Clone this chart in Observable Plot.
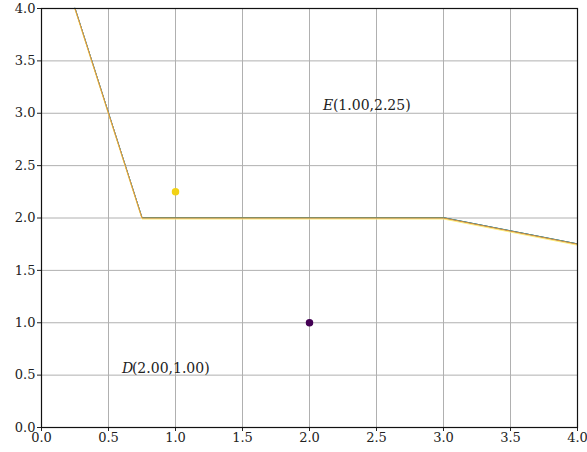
<!DOCTYPE html>
<html><head><meta charset="utf-8">
<script src="https://cdn.jsdelivr.net/npm/d3@7"></script>
<script src="https://cdn.jsdelivr.net/npm/@observablehq/plot@0.6"></script>
<style>
body{margin:0;background:#fff;}
svg, svg text{font-family:"DejaVu Serif",serif !important;}
svg g[aria-label$="tick label"] text{font-size:13px !important;}
svg g[aria-label="text"] text{font-size:14px !important;}
</style>
</head><body><div id="chart"></div>
<script>
const lineX = [0.25, 0.75, 3.0, 4.0];
const lineY = [4.0, 2.0, 2.0, 1.75];
const lineColors = ["#3b528b", "#21918c", "#fdf07a", "#e0923a"];
const lineOffsets = [-0.3, -0.3, 1, 0];
const pointX = [1.0, 2.0];
const pointY = [2.25, 1.0];
const pointColors = ["#f2d215", "#440154"];
const labelX = [2.1, 0.6];
const labelY = [3.07, 0.56];
const labelNames = ["E", "D"];
const labelValues = ["(1.00,2.25)", "(2.00,1.00)"];
const ticks = [0, 0.5, 1, 1.5, 2, 2.5, 3, 3.5, 4];

const lineData = [];
lineColors.forEach((c, k) => lineX.forEach((x, i) => lineData.push({x, y: lineY[i], s: k})));
const points = pointX.map((x, i) => ({x, y: pointY[i], c: pointColors[i]}));
const labels = labelX.map((x, i) => ({x, y: labelY[i], n: labelNames[i], v: labelValues[i]}));

const chart = Plot.plot({
  width: 587, height: 452,
  marginLeft: 41, marginRight: 10, marginTop: 8, marginBottom: 25,
  style: {fontFamily: "DejaVu Serif, serif", fontSize: "13px", color: "#222"},
  x: {domain: [0, 4], label: null},
  y: {domain: [0, 4], label: null},
  marks: [
    Plot.gridX(ticks, {stroke: "#b0b0b0", strokeOpacity: 1, strokeWidth: 1}),
    Plot.gridY(ticks, {stroke: "#b0b0b0", strokeOpacity: 1, strokeWidth: 1}),
    Plot.axisX({ticks, tickFormat: d3.format(".1f"), tickSize: 4, label: null, tickPadding: 1}),
    Plot.axisY({ticks, tickFormat: d3.format(".1f"), tickSize: 4, label: null, tickPadding: 2}),
    ...lineColors.map((c, k) => Plot.line(lineData.filter(d => d.s === k), {x: "x", y: "y", stroke: c, strokeWidth: 1, dy: lineOffsets[k]})),
    Plot.dot(points, {x: "x", y: "y", r: 3, fill: "c", stroke: "c"}),
    Plot.text(labels, {x: "x", y: "y", text: "n", fontStyle: "italic", textAnchor: "start", fill: "#222"}),
    Plot.text(labels, {x: "x", y: "y", text: "v", textAnchor: "start", dx: 10, fill: "#222"}),
    Plot.frame({stroke: "#111", strokeWidth: 1.2})
  ]
});
document.getElementById("chart").appendChild(chart);
</script></body></html>
